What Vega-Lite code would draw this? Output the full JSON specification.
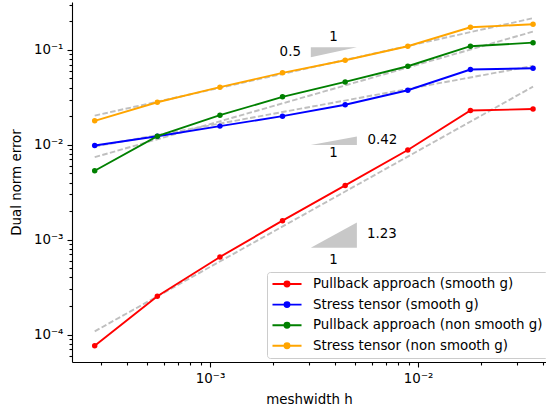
{
  "$schema": "https://vega.github.io/schema/vega-lite/v6.json",
  "width": 474,
  "height": 360,
  "autosize": {"type": "none"},
  "padding": {"left": 72, "top": 2, "right": 0, "bottom": 49},
  "config": {
    "view": {"stroke": null},
    "font": "DejaVu Sans",
    "axis": {
      "grid": false,
      "domainColor": "black",
      "domainWidth": 1.1,
      "tickColor": "black",
      "tickWidth": 1.1,
      "labelColor": "black",
      "titleColor": "black",
      "labelFont": "DejaVu Sans",
      "titleFont": "DejaVu Sans",
      "labelFontSize": 13.4,
      "titleFontSize": 13.4,
      "titleFontWeight": "normal",
      "labelOverlap": false,
      "labelPadding": 4
    }
  },
  "datasets": {
    "main": [
      {"h": 0.000279, "err": 0.000076, "method": "Pullback approach (smooth g)"},
      {"h": 0.000558, "err": 0.000253, "method": "Pullback approach (smooth g)"},
      {"h": 0.001116, "err": 0.000657, "method": "Pullback approach (smooth g)"},
      {"h": 0.00223, "err": 0.001585, "method": "Pullback approach (smooth g)"},
      {"h": 0.0044625, "err": 0.00373, "method": "Pullback approach (smooth g)"},
      {"h": 0.008925, "err": 0.0088, "method": "Pullback approach (smooth g)"},
      {"h": 0.01785, "err": 0.0230, "method": "Pullback approach (smooth g)"},
      {"h": 0.0357, "err": 0.0238, "method": "Pullback approach (smooth g)"},
      {"h": 0.000279, "err": 0.00984, "method": "Stress tensor (smooth g)"},
      {"h": 0.000558, "err": 0.0123, "method": "Stress tensor (smooth g)"},
      {"h": 0.001116, "err": 0.01573, "method": "Stress tensor (smooth g)"},
      {"h": 0.00223, "err": 0.02004, "method": "Stress tensor (smooth g)"},
      {"h": 0.0044625, "err": 0.0264, "method": "Stress tensor (smooth g)"},
      {"h": 0.008925, "err": 0.0376, "method": "Stress tensor (smooth g)"},
      {"h": 0.01785, "err": 0.0621, "method": "Stress tensor (smooth g)"},
      {"h": 0.0357, "err": 0.0641, "method": "Stress tensor (smooth g)"},
      {"h": 0.000279, "err": 0.00532, "method": "Pullback approach (non smooth g)"},
      {"h": 0.000558, "err": 0.01233, "method": "Pullback approach (non smooth g)"},
      {"h": 0.001116, "err": 0.0205, "method": "Pullback approach (non smooth g)"},
      {"h": 0.00223, "err": 0.032, "method": "Pullback approach (non smooth g)"},
      {"h": 0.0044625, "err": 0.046, "method": "Pullback approach (non smooth g)"},
      {"h": 0.008925, "err": 0.0673, "method": "Pullback approach (non smooth g)"},
      {"h": 0.01785, "err": 0.1094, "method": "Pullback approach (non smooth g)"},
      {"h": 0.0357, "err": 0.1193, "method": "Pullback approach (non smooth g)"},
      {"h": 0.000279, "err": 0.0179, "method": "Stress tensor (non smooth g)"},
      {"h": 0.000558, "err": 0.0281, "method": "Stress tensor (non smooth g)"},
      {"h": 0.001116, "err": 0.0405, "method": "Stress tensor (non smooth g)"},
      {"h": 0.00223, "err": 0.0573, "method": "Stress tensor (non smooth g)"},
      {"h": 0.0044625, "err": 0.0779, "method": "Stress tensor (non smooth g)"},
      {"h": 0.008925, "err": 0.1094, "method": "Stress tensor (non smooth g)"},
      {"h": 0.01785, "err": 0.1734, "method": "Stress tensor (non smooth g)"},
      {"h": 0.0357, "err": 0.1866, "method": "Stress tensor (non smooth g)"}
    ],
    "fits": [
      {"h": 0.000279, "err": 0.000108, "series": "red"},
      {"h": 0.0357, "err": 0.041, "series": "red"},
      {"h": 0.000279, "err": 0.00957, "series": "blue"},
      {"h": 0.0357, "err": 0.0678, "series": "blue"},
      {"h": 0.000279, "err": 0.0074, "series": "green"},
      {"h": 0.0357, "err": 0.156, "series": "green"},
      {"h": 0.000279, "err": 0.0203, "series": "orange"},
      {"h": 0.0357, "err": 0.216, "series": "orange"}
    ],
    "triangles": [
      {"h": 0.00305, "lo": 0.0838, "hi": 0.1067, "tri": "a"},
      {"h": 0.00508, "lo": 0.1067, "hi": 0.1067, "tri": "a"},
      {"h": 0.00305, "lo": 0.00993, "hi": 0.00993, "tri": "b"},
      {"h": 0.00508, "lo": 0.01222, "hi": 0.00993, "tri": "b"},
      {"h": 0.00305, "lo": 0.000819, "hi": 0.000819, "tri": "c"},
      {"h": 0.00508, "lo": 0.00152, "hi": 0.000819, "tri": "c"}
    ],
    "labels": [
      {"h": 0.00392, "err": 0.138, "text": "1"},
      {"h": 0.00243, "err": 0.0959, "text": "0.5"},
      {"h": 0.00392, "err": 0.00828, "text": "1"},
      {"h": 0.00673, "err": 0.01128, "text": "0.42"},
      {"h": 0.00392, "err": 0.000612, "text": "1"},
      {"h": 0.0067, "err": 0.00115, "text": "1.23"}
    ]
  },
  "layer": [
    {
      "data": {"name": "triangles"},
      "mark": {"type": "area", "color": "#c8c8c8", "opacity": 1},
      "encoding": {
        "x": {
          "field": "h", "type": "quantitative",
          "scale": {"type": "log", "domain": [0.000217, 0.0412], "nice": false},
          "axis": {
            "title": "meshwidth h",
            "values": [0.0003, 0.0004, 0.0005, 0.0006, 0.0007, 0.0008, 0.0009, 0.001, 0.002, 0.003, 0.004, 0.005, 0.006, 0.007, 0.008, 0.009, 0.01, 0.02, 0.03, 0.04],
            "labelExpr": "(abs(log(datum.value)/LN10 - round(log(datum.value)/LN10)) < 0.001) ? (round(log(datum.value)/LN10) == -2 ? '10⁻²' : '10⁻³') : ''",
            "tickSize": {"condition": {"test": "abs(log(datum.value)/LN10 - round(log(datum.value)/LN10)) < 0.001", "value": 5}, "value": 3},
            "titlePadding": 8
          }
        },
        "y": {
          "field": "lo", "type": "quantitative",
          "scale": {"type": "log", "domain": [0.0000513, 0.32], "nice": false},
          "axis": {
            "title": "Dual norm error",
            "values": [0.00006, 0.00007, 0.00008, 0.00009, 0.0001, 0.0002, 0.0003, 0.0004, 0.0005, 0.0006, 0.0007, 0.0008, 0.0009, 0.001, 0.002, 0.003, 0.004, 0.005, 0.006, 0.007, 0.008, 0.009, 0.01, 0.02, 0.03, 0.04, 0.05, 0.06, 0.07, 0.08, 0.09, 0.1, 0.2, 0.3],
            "labelExpr": "(abs(log(datum.value)/LN10 - round(log(datum.value)/LN10)) < 0.001) ? (round(log(datum.value)/LN10) == -1 ? '10⁻¹' : round(log(datum.value)/LN10) == -2 ? '10⁻²' : round(log(datum.value)/LN10) == -3 ? '10⁻³' : '10⁻⁴') : ''",
            "tickSize": {"condition": {"test": "abs(log(datum.value)/LN10 - round(log(datum.value)/LN10)) < 0.001", "value": 5}, "value": 3},
            "titlePadding": 10
          }
        },
        "y2": {"field": "hi"},
        "detail": {"field": "tri"}
      }
    },
    {
      "data": {"name": "fits"},
      "mark": {"type": "line", "color": "#bfbfbf", "strokeWidth": 1.9, "strokeDash": [5.5, 2.4]},
      "encoding": {
        "x": {"field": "h", "type": "quantitative"},
        "y": {"field": "err", "type": "quantitative"},
        "detail": {"field": "series"}
      }
    },
    {
      "data": {"name": "main"},
      "mark": {"type": "line", "strokeWidth": 1.9, "point": {"filled": true, "size": 30}},
      "encoding": {
        "x": {"field": "h", "type": "quantitative"},
        "y": {"field": "err", "type": "quantitative"},
        "color": {
          "field": "method", "type": "nominal",
          "scale": {
            "domain": ["Pullback approach (smooth g)", "Stress tensor (smooth g)", "Pullback approach (non smooth g)", "Stress tensor (non smooth g)"],
            "range": ["#ff0000", "#0000ff", "#008000", "#ffa500"]
          },
          "legend": {
            "title": null,
            "orient": "none",
            "legendX": 195,
            "legendY": 270,
            "strokeColor": "#cccccc",
            "fillColor": "white",
            "cornerRadius": 3,
            "padding": 5,
            "rowPadding": 6.6,
            "labelFont": "DejaVu Sans",
            "labelFontSize": 13.4,
            "labelColor": "black",
            "labelLimit": 400,
            "symbolType": "M-2.42,0H2.42M-0.42,0A0.42,0.42,0,1,1,0.42,0A0.42,0.42,0,1,1,-0.42,0",
            "symbolSize": 144,
            "symbolStrokeWidth": 1.9,
            "symbolOffset": 8,
            "labelOffset": 19,
            "encode": {
              "symbols": {
                "update": {
                  "fill": {"scale": "color", "field": "value"},
                  "stroke": {"scale": "color", "field": "value"},
                  "opacity": {"value": 1}
                }
              }
            }
          }
        }
      }
    },
    {
      "data": {"name": "labels"},
      "mark": {"type": "text", "fontSize": 13.4, "font": "DejaVu Sans", "color": "black", "align": "center", "baseline": "middle"},
      "encoding": {
        "x": {"field": "h", "type": "quantitative"},
        "y": {"field": "err", "type": "quantitative"},
        "text": {"field": "text"}
      }
    },
    {
      "mark": {"type": "rule", "color": "black", "strokeWidth": 1.1},
      "encoding": {"y": {"datum": 0.32}}
    }
  ]
}
